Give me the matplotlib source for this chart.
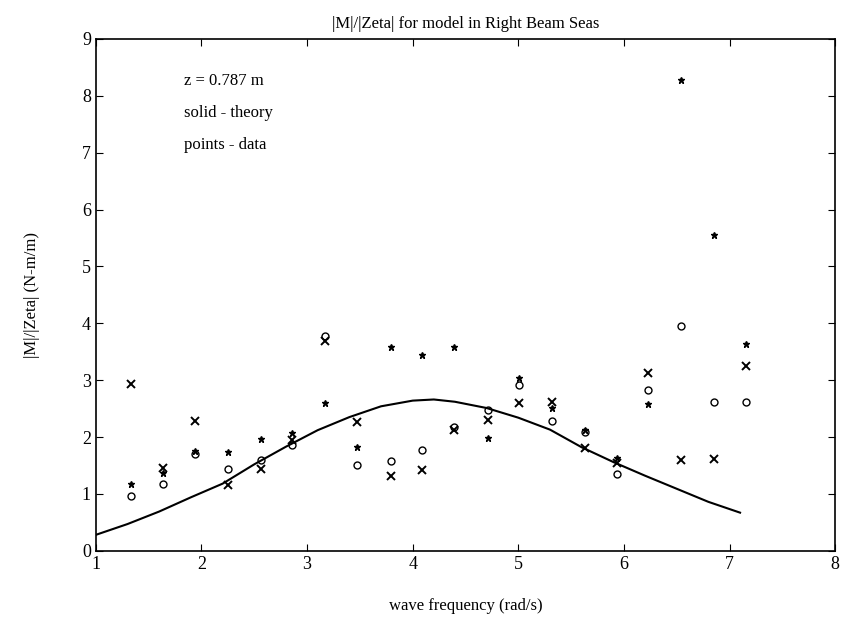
import matplotlib.pyplot as plt
import numpy as np

plt.rcParams['font.family'] = ['Liberation Serif', 'DejaVu Serif']

# wave frequencies of the test runs (rad/s)
freq = [1.33, 1.64, 1.94, 2.25, 2.56, 2.86, 3.17, 3.47, 3.79, 4.09,
        4.39, 4.71, 5.01, 5.32, 5.63, 5.93, 6.23, 6.54, 6.85, 7.16]

# three data sets, marked *, x and o
star = [1.18, 1.37, 1.76, 1.73, 1.97, 2.07, 2.60, 1.82, 3.59, 3.44,
        3.59, 1.98, 3.03, 2.51, 2.12, 1.63, 2.58, 8.27, 5.55, 3.64]
cross = [2.94, 1.45, 2.28, 1.16, 1.44, 1.95, 3.68, 2.26, 1.32, 1.42,
         2.13, 2.30, 2.60, 2.62, 1.80, 1.54, 3.12, 1.60, 1.62, 3.25]
circ = [0.96, 1.18, 1.70, 1.44, 1.60, 1.86, 3.77, 1.50, 1.57, 1.77,
        2.18, 2.47, 2.92, 2.29, 2.08, 1.35, 2.82, 3.95, 2.61, 2.61]

# theory curve
th_freq = [1.0, 1.3, 1.6, 1.9, 2.2, 2.5, 2.8, 3.1, 3.4, 3.7, 4.0,
           4.2, 4.4, 4.7, 5.0, 5.3, 5.6, 5.9, 6.2, 6.5, 6.8, 7.1]
th_val = [0.28, 0.47, 0.69, 0.94, 1.18, 1.52, 1.83, 2.12, 2.35, 2.54, 2.64,
          2.66, 2.62, 2.51, 2.34, 2.13, 1.82, 1.56, 1.32, 1.09, 0.86, 0.67]

fig = plt.figure(figsize=(8.41, 6.28), dpi=100)
ax = fig.add_axes([0.114, 0.123, 0.879, 0.815])

ax.plot(th_freq, th_val, color='k', lw=1.5)
ax.plot(freq, star, ls='none', marker='*', color='k', ms=5)
ax.plot(freq, cross, ls='none', marker='x', color='k', ms=5.5, mew=1.4)
ax.plot(freq, circ, ls='none', marker='o', mfc='none', mec='k', ms=5, mew=1.0)

ax.set_xlim(1, 8)
ax.set_ylim(0, 9)
ax.set_xticks(np.arange(1, 9))
ax.set_yticks(np.arange(0, 10))
ax.tick_params(direction='in', top=True, right=True, length=5, labelsize=13)
for s in ax.spines.values():
    s.set_linewidth(1.2)

ax.text(1.83, 8.26, 'z = 0.787 m', fontsize=12, va='center')
ax.text(1.83, 7.70, 'solid - theory', fontsize=12, va='center')
ax.text(1.83, 7.14, 'points - data', fontsize=12, va='center')

ax.set_title('|M|/|Zeta| for model in Right Beam Seas', fontsize=12, pad=8)
ax.set_xlabel('wave frequency (rad/s)', fontsize=12, labelpad=18)
ax.set_ylabel('|M|/|Zeta| (N-m/m)', fontsize=12, labelpad=30)

fig.savefig('out.png', dpi=100)
